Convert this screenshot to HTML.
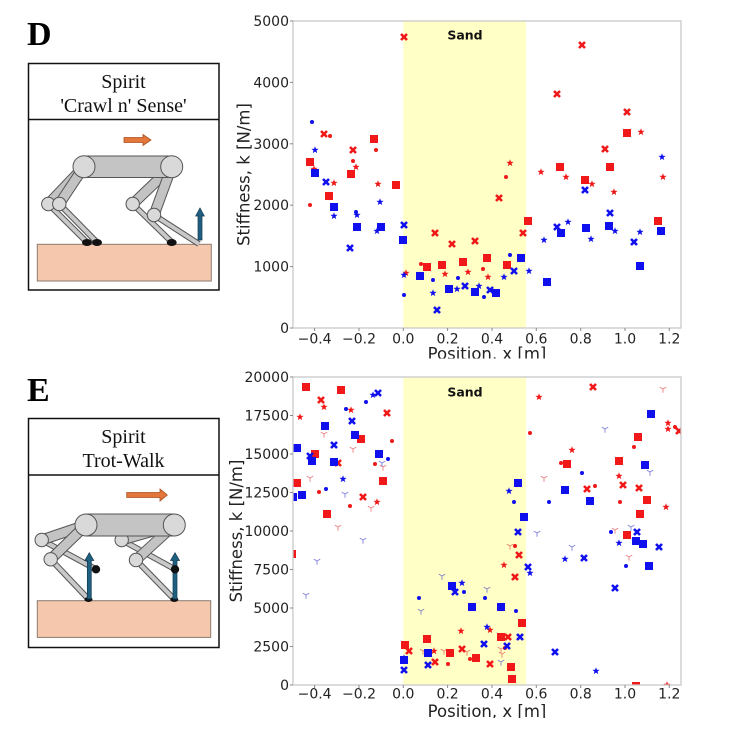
<!DOCTYPE html>
<html><head><meta charset="utf-8"><style>
html,body{margin:0;padding:0;background:#fff;}
svg{display:block;}
.tk{font-family:"DejaVu Sans","Liberation Sans",sans-serif;font-size:14px;fill:#222;}
.lab{font-family:"DejaVu Sans","Liberation Sans",sans-serif;font-size:16.5px;fill:#222;}
.sand{font-family:"DejaVu Sans","Liberation Sans",sans-serif;font-size:12.5px;font-weight:bold;fill:#111;}
.ser{font-family:"Liberation Serif","DejaVu Serif",serif;font-size:20px;fill:#111;}
.big{font-family:"Liberation Serif","DejaVu Serif",serif;font-size:34px;font-weight:bold;fill:#000;}
</style></head><body>
<svg width="750" height="732" viewBox="0 0 750 732" xmlns="http://www.w3.org/2000/svg">
<defs>
<rect id="s" x="-4" y="-4" width="8" height="8" stroke="none"/>
<path id="x" d="M-3,-3L3,3M-3,3L3,-3" fill="none" stroke-width="2.6"/>
<polygon id="st" points="0,-3.8 0.94,-1.29 3.61,-1.17 1.52,0.49 2.23,3.07 0,1.6 -2.23,3.07 -1.52,0.49 -3.61,-1.17 -0.94,-1.29" stroke="none"/>
<circle id="d" r="2" stroke="none"/>
<path id="t" d="M0,0L0,3.8M0,0L-3.2,-1.9M0,0L3.2,-1.9" fill="none" stroke-width="0.9"/>
<clipPath id="c1"><rect x="293" y="21" width="388" height="307"/></clipPath>
<clipPath id="c2"><rect x="293" y="377" width="388" height="308"/></clipPath>
<clipPath id="cl1"><rect x="0" y="0" width="750" height="358.5"/></clipPath>
<clipPath id="cl2"><rect x="0" y="360" width="750" height="358"/></clipPath>
</defs>

<!-- ================= PANEL D ================= -->
<text class="big" x="27" y="45">D</text>
<rect x="28.5" y="63.5" width="190.5" height="226.5" fill="#fff" stroke="#111" stroke-width="1.5"/>
<line x1="28.5" y1="119.5" x2="219" y2="119.5" stroke="#111" stroke-width="1.5"/>
<text class="ser" x="123.5" y="88" text-anchor="middle">Spirit</text>
<text class="ser" x="123.5" y="112" text-anchor="middle">'Crawl n' Sense'</text>
<polygon points="124,137.5 143,137.5 143,134.5 151,140 143,145.5 143,142.5 124,142.5" fill="#e3763a" stroke="#a85020" stroke-width="0.8"/>
<rect x="37.3" y="244.3" width="174" height="36.7" fill="#f5c7ad" stroke="#8a7a70" stroke-width="1"/>
<g stroke-linecap="butt">
<!-- lower legs -->
<line x1="48.3" y1="204" x2="86.7" y2="242" stroke="#555" stroke-width="6"/>
<line x1="48.3" y1="204" x2="86.7" y2="242" stroke="#c9c9c9" stroke-width="4"/>
<line x1="59.3" y1="204" x2="96.7" y2="242" stroke="#555" stroke-width="6"/>
<line x1="59.3" y1="204" x2="96.7" y2="242" stroke="#c9c9c9" stroke-width="4"/>
<line x1="132.7" y1="204" x2="171.7" y2="242" stroke="#555" stroke-width="6"/>
<line x1="132.7" y1="204" x2="171.7" y2="242" stroke="#c9c9c9" stroke-width="4"/>
<line x1="154" y1="215" x2="199" y2="244" stroke="#555" stroke-width="6"/>
<line x1="154" y1="215" x2="199" y2="244" stroke="#c9c9c9" stroke-width="4"/>
<!-- upper legs -->
<line x1="84" y1="166.7" x2="48.3" y2="204" stroke="#555" stroke-width="11"/>
<line x1="84" y1="166.7" x2="48.3" y2="204" stroke="#c3c3c3" stroke-width="9"/>
<line x1="84" y1="166.7" x2="59.3" y2="204" stroke="#555" stroke-width="11"/>
<line x1="84" y1="166.7" x2="59.3" y2="204" stroke="#c3c3c3" stroke-width="9"/>
<line x1="171.7" y1="166.7" x2="132.7" y2="204" stroke="#555" stroke-width="11"/>
<line x1="171.7" y1="166.7" x2="132.7" y2="204" stroke="#c3c3c3" stroke-width="9"/>
<line x1="171.7" y1="166.7" x2="154" y2="215" stroke="#555" stroke-width="11"/>
<line x1="171.7" y1="166.7" x2="154" y2="215" stroke="#c3c3c3" stroke-width="9"/>
</g>
<circle cx="48.3" cy="204" r="6.7" fill="#d9d9d9" stroke="#555" stroke-width="1"/>
<circle cx="59.3" cy="204" r="6.7" fill="#d9d9d9" stroke="#555" stroke-width="1"/>
<circle cx="132.7" cy="204" r="6.7" fill="#d9d9d9" stroke="#555" stroke-width="1"/>
<circle cx="154" cy="215" r="6.7" fill="#d9d9d9" stroke="#555" stroke-width="1"/>
<ellipse cx="87" cy="242.5" rx="5" ry="3.5" fill="#111"/>
<ellipse cx="97" cy="242.5" rx="5" ry="3.5" fill="#111"/>
<ellipse cx="171.7" cy="242.5" rx="5" ry="3.5" fill="#111"/>
<rect x="84" y="156" width="87.7" height="21.5" fill="#c4c4c4" stroke="#555" stroke-width="1"/>
<circle cx="84" cy="166.7" r="11" fill="#d9d9d9" stroke="#555" stroke-width="1"/>
<circle cx="171.7" cy="166.7" r="11" fill="#d9d9d9" stroke="#555" stroke-width="1"/>
<polygon points="198,240 198,216 195.7,216 200,208 204.3,216 202,216 202,240" fill="#1f5f80" stroke="#123a50" stroke-width="0.7"/>

<!-- ================= PANEL E ================= -->
<text class="big" x="27" y="401">E</text>
<rect x="28.5" y="418.5" width="190.5" height="229" fill="#fff" stroke="#111" stroke-width="1.5"/>
<line x1="28.5" y1="475" x2="219" y2="475" stroke="#111" stroke-width="1.5"/>
<text class="ser" x="123.5" y="443" text-anchor="middle">Spirit</text>
<text class="ser" x="123.5" y="467" text-anchor="middle">Trot-Walk</text>
<polygon points="126.7,492.5 160,492.5 160,489 167.3,495 160,501 160,497.5 126.7,497.5" fill="#e3763a" stroke="#a85020" stroke-width="0.8"/>
<rect x="37.3" y="600.7" width="173.4" height="36.7" fill="#f5c7ad" stroke="#8a7a70" stroke-width="1"/>
<g stroke-linecap="butt">
<line x1="41.7" y1="540" x2="96" y2="569.3" stroke="#555" stroke-width="6"/>
<line x1="41.7" y1="540" x2="96" y2="569.3" stroke="#c9c9c9" stroke-width="4"/>
<line x1="50.7" y1="559.3" x2="88.3" y2="599" stroke="#555" stroke-width="6"/>
<line x1="50.7" y1="559.3" x2="88.3" y2="599" stroke="#c9c9c9" stroke-width="4"/>
<line x1="121.7" y1="540" x2="175" y2="569.3" stroke="#555" stroke-width="6"/>
<line x1="121.7" y1="540" x2="175" y2="569.3" stroke="#c9c9c9" stroke-width="4"/>
<line x1="136" y1="560" x2="174" y2="599" stroke="#555" stroke-width="6"/>
<line x1="136" y1="560" x2="174" y2="599" stroke="#c9c9c9" stroke-width="4"/>
<line x1="86" y1="525" x2="41.7" y2="540" stroke="#555" stroke-width="11"/>
<line x1="86" y1="525" x2="41.7" y2="540" stroke="#c3c3c3" stroke-width="9"/>
<line x1="86" y1="525" x2="50.7" y2="559.3" stroke="#555" stroke-width="11"/>
<line x1="86" y1="525" x2="50.7" y2="559.3" stroke="#c3c3c3" stroke-width="9"/>
<line x1="174.3" y1="525" x2="121.7" y2="540" stroke="#555" stroke-width="11"/>
<line x1="174.3" y1="525" x2="121.7" y2="540" stroke="#c3c3c3" stroke-width="9"/>
<line x1="174.3" y1="525" x2="136" y2="560" stroke="#555" stroke-width="11"/>
<line x1="174.3" y1="525" x2="136" y2="560" stroke="#c3c3c3" stroke-width="9"/>
</g>
<circle cx="41.7" cy="540" r="6.7" fill="#d9d9d9" stroke="#555" stroke-width="1"/>
<circle cx="50.7" cy="559.3" r="6.7" fill="#d9d9d9" stroke="#555" stroke-width="1"/>
<circle cx="121.7" cy="540" r="6.7" fill="#d9d9d9" stroke="#555" stroke-width="1"/>
<circle cx="136" cy="560" r="6.7" fill="#d9d9d9" stroke="#555" stroke-width="1"/>
<rect x="86" y="514" width="88.3" height="22" fill="#c4c4c4" stroke="#555" stroke-width="1"/>
<circle cx="86" cy="525" r="11" fill="#d9d9d9" stroke="#555" stroke-width="1"/>
<circle cx="174.3" cy="525" r="11" fill="#d9d9d9" stroke="#555" stroke-width="1"/>
<ellipse cx="88.5" cy="599.5" rx="4" ry="2.5" fill="#111"/>
<ellipse cx="174.3" cy="599.5" rx="4" ry="2.5" fill="#111"/>
<polygon points="87.3,599 87.3,560.5 84.8,560.5 89.3,552.7 93.8,560.5 91.3,560.5 91.3,599" fill="#1f5f80" stroke="#123a50" stroke-width="0.7"/>
<polygon points="173,599 173,560.5 170.5,560.5 175,552.7 179.5,560.5 177,560.5 177,599" fill="#1f5f80" stroke="#123a50" stroke-width="0.7"/>
<circle cx="96" cy="569.3" r="4.2" fill="#111"/>
<circle cx="175" cy="569.3" r="4.2" fill="#111"/>

<!-- ================= CHART D ================= -->
<rect x="403.3" y="21" width="122.7" height="307" fill="#ffffc6"/>
<text class="sand" x="465" y="39.5" text-anchor="middle">Sand</text>
<g clip-path="url(#c1)">
<g fill="#f01818" stroke="#f01818">
<use href="#s" x="310" y="162"/><use href="#s" x="374" y="139"/><use href="#s" x="351" y="174"/><use href="#s" x="329" y="196"/><use href="#s" x="396" y="185"/><use href="#s" x="427" y="267"/><use href="#s" x="442" y="265"/><use href="#s" x="463" y="262"/><use href="#s" x="487" y="258"/><use href="#s" x="560" y="167"/><use href="#s" x="610" y="167"/><use href="#s" x="585" y="180"/><use href="#s" x="528" y="221"/><use href="#s" x="658" y="221"/><use href="#s" x="507" y="265"/><use href="#s" x="627" y="133"/>
<use href="#x" x="404" y="37"/><use href="#x" x="324" y="134"/><use href="#x" x="353" y="150"/><use href="#x" x="435" y="233"/><use href="#x" x="452" y="244"/><use href="#x" x="475" y="241"/><use href="#x" x="582" y="45"/><use href="#x" x="557" y="94"/><use href="#x" x="627" y="112"/><use href="#x" x="605" y="149"/><use href="#x" x="499" y="198"/><use href="#x" x="523" y="233"/>
<use href="#st" x="314" y="169"/><use href="#st" x="334" y="183"/><use href="#st" x="356" y="167"/><use href="#st" x="378" y="184"/><use href="#st" x="406" y="273"/><use href="#st" x="445" y="274"/><use href="#st" x="468" y="272"/><use href="#st" x="488" y="277"/><use href="#st" x="510" y="163"/><use href="#st" x="541" y="172"/><use href="#st" x="566" y="177"/><use href="#st" x="592" y="184"/><use href="#st" x="614" y="192"/><use href="#st" x="663" y="177"/><use href="#st" x="641" y="132"/>
<use href="#d" x="330" y="136"/><use href="#d" x="353" y="161"/><use href="#d" x="376" y="150"/><use href="#d" x="310" y="205"/><use href="#d" x="421" y="264"/><use href="#d" x="483" y="269"/><use href="#d" x="506" y="177"/>
</g>
<g fill="#1010ee" stroke="#1010ee">
<use href="#s" x="315" y="173"/><use href="#s" x="334" y="207"/><use href="#s" x="357" y="227"/><use href="#s" x="381" y="227"/><use href="#s" x="403" y="240"/><use href="#s" x="420" y="276"/><use href="#s" x="449" y="289"/><use href="#s" x="475" y="292"/><use href="#s" x="586" y="228"/><use href="#s" x="609" y="226"/><use href="#s" x="661" y="231"/><use href="#s" x="561" y="233"/><use href="#s" x="640" y="266"/><use href="#s" x="547" y="282"/><use href="#s" x="521" y="258"/><use href="#s" x="496" y="293"/>
<use href="#x" x="326" y="182"/><use href="#x" x="350" y="248"/><use href="#x" x="404" y="225"/><use href="#x" x="437" y="310"/><use href="#x" x="465" y="286"/><use href="#x" x="585" y="190"/><use href="#x" x="610" y="213"/><use href="#x" x="557" y="227"/><use href="#x" x="634" y="242"/><use href="#x" x="514" y="271"/><use href="#x" x="490" y="290"/>
<use href="#st" x="315" y="150"/><use href="#st" x="334" y="216"/><use href="#st" x="357" y="215"/><use href="#st" x="380" y="202"/><use href="#st" x="377" y="231"/><use href="#st" x="404" y="275"/><use href="#st" x="433" y="293"/><use href="#st" x="457" y="289"/><use href="#st" x="479" y="286"/><use href="#st" x="662" y="157"/><use href="#st" x="615" y="231"/><use href="#st" x="568" y="222"/><use href="#st" x="544" y="240"/><use href="#st" x="591" y="239"/><use href="#st" x="640" y="232"/><use href="#st" x="529" y="271"/><use href="#st" x="504" y="277"/>
<use href="#d" x="312" y="122"/><use href="#d" x="356" y="212"/><use href="#d" x="404" y="295"/><use href="#d" x="433" y="280"/><use href="#d" x="458" y="278"/><use href="#d" x="484" y="297"/><use href="#d" x="510" y="255"/>
</g>
</g>
<rect x="293" y="21" width="388" height="307" fill="none" stroke="#c8c8c8" stroke-width="1.3"/>
<g stroke="#888" stroke-width="1">
<line x1="290" y1="328" x2="293" y2="328"/><line x1="290" y1="266.6" x2="293" y2="266.6"/><line x1="290" y1="205.2" x2="293" y2="205.2"/><line x1="290" y1="143.8" x2="293" y2="143.8"/><line x1="290" y1="82.4" x2="293" y2="82.4"/><line x1="290" y1="21" x2="293" y2="21"/>
<line x1="314.6" y1="328" x2="314.6" y2="331"/><line x1="359" y1="328" x2="359" y2="331"/><line x1="403.3" y1="328" x2="403.3" y2="331"/><line x1="447.6" y1="328" x2="447.6" y2="331"/><line x1="492" y1="328" x2="492" y2="331"/><line x1="536.3" y1="328" x2="536.3" y2="331"/><line x1="580.7" y1="328" x2="580.7" y2="331"/><line x1="625" y1="328" x2="625" y2="331"/><line x1="669.3" y1="328" x2="669.3" y2="331"/>
</g>
<g class="tk" text-anchor="end">
<text x="289" y="333">0</text><text x="289" y="271.6">1000</text><text x="289" y="210.2">2000</text><text x="289" y="148.8">3000</text><text x="289" y="87.4">4000</text><text x="289" y="26">5000</text>
</g>
<g class="tk" text-anchor="middle">
<text x="314.6" y="343.5">−0.4</text><text x="359" y="343.5">−0.2</text><text x="403.3" y="343.5">0.0</text><text x="447.6" y="343.5">0.2</text><text x="492" y="343.5">0.4</text><text x="536.3" y="343.5">0.6</text><text x="580.7" y="343.5">0.8</text><text x="625" y="343.5">1.0</text><text x="669.3" y="343.5">1.2</text>
</g>
<text class="lab" transform="translate(249.5,174.5) rotate(-90)" text-anchor="middle">Stiffness, k [N/m]</text>
<g clip-path="url(#cl1)"><text class="lab" x="487" y="359.5" text-anchor="middle">Position, x [m]</text></g>

<!-- ================= CHART E ================= -->
<rect x="403.3" y="377" width="122.7" height="308" fill="#ffffc6"/>
<text class="sand" x="465" y="396.5" text-anchor="middle">Sand</text>
<g clip-path="url(#c2)">
<g fill="none" stroke="rgba(225,60,60,0.65)">
<use href="#t" x="324" y="434"/><use href="#t" x="353" y="449"/><use href="#t" x="310" y="478"/><use href="#t" x="383" y="467"/><use href="#t" x="371" y="508"/><use href="#t" x="338" y="527"/><use href="#t" x="423" y="651"/><use href="#t" x="444" y="651"/><use href="#t" x="467" y="652"/><use href="#t" x="501" y="649"/><use href="#t" x="502" y="654"/><use href="#t" x="663" y="389"/><use href="#t" x="544" y="478"/><use href="#t" x="615" y="530"/><use href="#t" x="629" y="557"/><use href="#t" x="510" y="546"/>
</g>
<g fill="none" stroke="rgba(60,60,200,0.65)">
<use href="#t" x="382" y="463"/><use href="#t" x="345" y="494"/><use href="#t" x="363" y="540"/><use href="#t" x="317" y="561"/><use href="#t" x="306" y="595"/><use href="#t" x="421" y="611"/><use href="#t" x="487" y="589"/><use href="#t" x="501" y="662"/><use href="#t" x="605" y="429"/><use href="#t" x="650" y="472"/><use href="#t" x="537" y="533"/><use href="#t" x="631" y="527"/><use href="#t" x="572" y="547"/><use href="#t" x="442" y="576"/>
</g>
<g fill="#f01818" stroke="#f01818">
<use href="#s" x="306" y="387"/><use href="#s" x="341" y="390"/><use href="#s" x="361" y="439"/><use href="#s" x="315" y="454"/><use href="#s" x="297" y="483"/><use href="#s" x="383" y="481"/><use href="#s" x="327" y="514"/><use href="#s" x="292" y="554"/><use href="#s" x="405" y="645"/><use href="#s" x="427" y="639"/><use href="#s" x="450" y="653"/><use href="#s" x="476" y="658"/><use href="#s" x="501" y="637"/><use href="#s" x="511" y="667"/><use href="#s" x="512" y="679"/><use href="#s" x="522" y="623"/><use href="#s" x="638" y="437"/><use href="#s" x="567" y="464"/><use href="#s" x="619" y="461"/><use href="#s" x="647" y="500"/><use href="#s" x="640" y="514"/><use href="#s" x="627" y="535"/><use href="#s" x="636" y="686"/>
<use href="#x" x="321" y="400"/><use href="#x" x="387" y="413"/><use href="#x" x="338" y="463"/><use href="#x" x="363" y="497"/><use href="#x" x="409" y="651"/><use href="#x" x="435" y="662"/><use href="#x" x="462" y="649"/><use href="#x" x="490" y="664"/><use href="#x" x="508" y="637"/><use href="#x" x="593" y="387"/><use href="#x" x="679" y="431"/><use href="#x" x="623" y="485"/><use href="#x" x="639" y="488"/><use href="#x" x="587" y="489"/><use href="#x" x="519" y="555"/><use href="#x" x="515" y="577"/>
<use href="#st" x="324" y="407"/><use href="#st" x="300" y="417"/><use href="#st" x="351" y="410"/><use href="#st" x="377" y="502"/><use href="#st" x="434" y="651"/><use href="#st" x="461" y="631"/><use href="#st" x="490" y="630"/><use href="#st" x="504" y="565"/><use href="#st" x="539" y="397"/><use href="#st" x="668" y="423"/><use href="#st" x="668" y="429"/><use href="#st" x="572" y="450"/><use href="#st" x="619" y="476"/><use href="#st" x="666" y="507"/><use href="#st" x="667" y="685"/>
<use href="#d" x="392" y="441"/><use href="#d" x="375" y="464"/><use href="#d" x="319" y="492"/><use href="#d" x="350" y="506"/><use href="#d" x="448" y="664"/><use href="#d" x="470" y="659"/><use href="#d" x="505" y="648"/><use href="#d" x="530" y="433"/><use href="#d" x="675" y="427"/><use href="#d" x="634" y="447"/><use href="#d" x="561" y="463"/><use href="#d" x="595" y="486"/><use href="#d" x="620" y="502"/><use href="#d" x="515" y="546"/>
</g>
<g fill="#1010ee" stroke="#1010ee">
<use href="#s" x="297" y="448"/><use href="#s" x="325" y="426"/><use href="#s" x="355" y="435"/><use href="#s" x="312" y="461"/><use href="#s" x="334" y="462"/><use href="#s" x="379" y="454"/><use href="#s" x="302" y="495"/><use href="#s" x="293" y="497"/><use href="#s" x="404" y="660"/><use href="#s" x="428" y="653"/><use href="#s" x="452" y="586"/><use href="#s" x="472" y="607"/><use href="#s" x="501" y="607"/><use href="#s" x="651" y="414"/><use href="#s" x="645" y="465"/><use href="#s" x="518" y="483"/><use href="#s" x="565" y="490"/><use href="#s" x="590" y="501"/><use href="#s" x="524" y="517"/><use href="#s" x="636" y="541"/><use href="#s" x="643" y="544"/><use href="#s" x="649" y="566"/>
<use href="#x" x="352" y="421"/><use href="#x" x="378" y="393"/><use href="#x" x="334" y="445"/><use href="#x" x="310" y="456"/><use href="#x" x="404" y="670"/><use href="#x" x="428" y="665"/><use href="#x" x="455" y="592"/><use href="#x" x="484" y="644"/><use href="#x" x="507" y="646"/><use href="#x" x="520" y="637"/><use href="#x" x="518" y="532"/><use href="#x" x="637" y="532"/><use href="#x" x="659" y="547"/><use href="#x" x="584" y="558"/><use href="#x" x="528" y="567"/><use href="#x" x="615" y="588"/><use href="#x" x="555" y="652"/>
<use href="#st" x="373" y="395"/><use href="#st" x="343" y="479"/><use href="#st" x="404" y="658"/><use href="#st" x="462" y="583"/><use href="#st" x="487" y="627"/><use href="#st" x="530" y="573"/><use href="#st" x="509" y="491"/><use href="#st" x="619" y="543"/><use href="#st" x="565" y="559"/><use href="#st" x="596" y="671"/>
<use href="#d" x="346" y="409"/><use href="#d" x="366" y="402"/><use href="#d" x="388" y="459"/><use href="#d" x="326" y="489"/><use href="#d" x="419" y="598"/><use href="#d" x="464" y="592"/><use href="#d" x="485" y="598"/><use href="#d" x="516" y="611"/><use href="#d" x="582" y="473"/><use href="#d" x="514" y="502"/><use href="#d" x="549" y="502"/><use href="#d" x="611" y="532"/><use href="#d" x="626" y="566"/>
</g>
</g>
<rect x="293" y="377" width="388" height="308" fill="none" stroke="#c8c8c8" stroke-width="1.3"/>
<g stroke="#888" stroke-width="1">
<line x1="290" y1="685" x2="293" y2="685"/><line x1="290" y1="646.5" x2="293" y2="646.5"/><line x1="290" y1="608" x2="293" y2="608"/><line x1="290" y1="569.5" x2="293" y2="569.5"/><line x1="290" y1="531" x2="293" y2="531"/><line x1="290" y1="492.5" x2="293" y2="492.5"/><line x1="290" y1="454" x2="293" y2="454"/><line x1="290" y1="415.5" x2="293" y2="415.5"/><line x1="290" y1="377" x2="293" y2="377"/>
<line x1="314.6" y1="685" x2="314.6" y2="688"/><line x1="359" y1="685" x2="359" y2="688"/><line x1="403.3" y1="685" x2="403.3" y2="688"/><line x1="447.6" y1="685" x2="447.6" y2="688"/><line x1="492" y1="685" x2="492" y2="688"/><line x1="536.3" y1="685" x2="536.3" y2="688"/><line x1="580.7" y1="685" x2="580.7" y2="688"/><line x1="625" y1="685" x2="625" y2="688"/><line x1="669.3" y1="685" x2="669.3" y2="688"/>
</g>
<g class="tk" text-anchor="end">
<text x="289" y="690">0</text><text x="289" y="651.5">2500</text><text x="289" y="613">5000</text><text x="289" y="574.5">7500</text><text x="289" y="536">10000</text><text x="289" y="497.5">12500</text><text x="289" y="459">15000</text><text x="289" y="420.5">17500</text><text x="289" y="382">20000</text>
</g>
<g class="tk" text-anchor="middle">
<text x="314.6" y="698.5">−0.4</text><text x="359" y="698.5">−0.2</text><text x="403.3" y="698.5">0.0</text><text x="447.6" y="698.5">0.2</text><text x="492" y="698.5">0.4</text><text x="536.3" y="698.5">0.6</text><text x="580.7" y="698.5">0.8</text><text x="625" y="698.5">1.0</text><text x="669.3" y="698.5">1.2</text>
</g>
<text class="lab" transform="translate(242,531) rotate(-90)" text-anchor="middle">Stiffness, k [N/m]</text>
<g clip-path="url(#cl2)"><text class="lab" x="487" y="717" text-anchor="middle">Position, x [m]</text></g>
</svg>
</body></html>
